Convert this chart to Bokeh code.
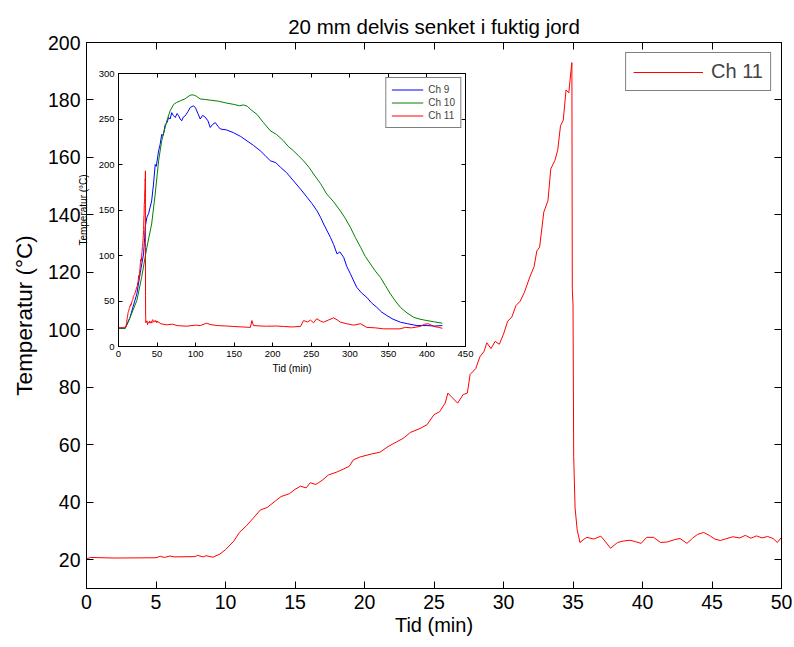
from bokeh.plotting import figure
from bokeh.models import Range1d, LinearAxis, FixedTicker, Legend, LegendItem, Column
from bokeh.embed import file_html
from bokeh.resources import INLINE

FONT = "Liberation Sans"

# ---------------- data ----------------
# Main chart: Ch 11, first 50 minutes
ch11_t = [0, 0.3, 2.0, 5.0, 5.3, 5.6, 6.0, 6.3, 7.8, 8.0, 8.4, 8.6, 9.1, 9.6, 10.0, 10.6, 11.0,
          11.5, 12.0, 12.5, 13.0, 13.6, 14.0, 14.6, 15.0, 15.4, 15.8, 16.1, 16.5, 17.0, 17.4,
          18.0, 18.5, 18.9, 19.2, 19.7, 20.5, 21.1, 21.7, 22.3, 22.8, 23.3, 24.0, 24.5, 25.0,
          25.4, 25.8, 26.0, 26.3, 26.7, 27.1, 27.4, 27.6, 28.0, 28.3, 28.6, 28.8, 29.1, 29.4,
          29.7, 30.0, 30.3, 30.6, 30.9, 31.2, 31.5, 31.9, 32.2, 32.4, 32.6, 32.9, 33.2, 33.4,
          33.7, 33.9, 34.1, 34.3, 34.5, 34.7, 34.85, 34.92, 34.95, 35.0, 35.05, 35.15, 35.3,
          35.5, 35.8, 36.0, 36.5, 37.0, 37.3, 37.7, 38.2, 38.6, 39.1, 39.5, 39.9, 40.3, 40.8,
          41.3, 41.8, 42.3, 42.7, 43.2, 43.6, 43.95, 44.4, 44.8, 45.2, 45.6, 46.0, 46.5, 47.0,
          47.4, 47.8, 48.2, 48.6, 49.0, 49.4, 49.7, 50.0]
ch11_v = [20.3, 20.8, 20.6, 20.7, 21.2, 20.8, 21.3, 21.0, 21.1, 21.5, 21.0, 21.4, 20.9, 22.0,
          23.5, 26.5, 29.5, 31.8, 34.5, 37.3, 38.2, 40.5, 42.0, 43.0, 44.5, 45.6, 45.0, 46.8,
          46.2, 47.8, 49.5, 50.5, 51.6, 52.5, 54.8, 55.8, 56.8, 57.4, 59.4, 61.0, 62.3, 64.3,
          65.7, 67.0, 70.5, 71.5, 74.5, 78.0, 76.5, 74.5, 77.5, 78.0, 84.5, 86.5, 90.6, 92.5,
          95.5, 93.5, 96.0, 95.0, 98.5, 103.0, 104.5, 108.5, 110.0, 113.0, 118.5, 122.0, 127.5,
          128.8, 141.0, 145.0, 156.0, 159.0, 162.5, 171.0, 173.0, 183.5, 182.5, 190.0, 193.0,
          114.0, 109.0, 56.0, 38.0, 30.5, 26.0, 27.2, 27.8, 27.2, 28.2, 26.5, 24.0, 26.0, 26.5,
          26.8, 26.3, 25.7, 27.8, 27.8, 26.0, 26.2, 27.0, 27.4, 25.7, 27.5, 28.8, 29.5, 28.5,
          27.2, 26.7, 27.3, 28.0, 27.6, 28.5, 27.5, 28.3, 27.6, 28.1, 27.4, 26.0, 27.8]

# Inset: Ch 11 after 50 minutes
ch11_late_t = [55, 62, 70, 76, 88, 100, 106, 114, 120, 128, 140, 149, 160, 171, 173, 175, 185,
               192, 205, 214, 225, 236, 240, 245, 249, 253, 257, 262, 266, 272, 279, 284, 288,
               296, 305, 314, 322, 333, 344, 365, 372, 380, 391, 397, 402, 409, 415, 420]
ch11_late_v = [25.0, 23.8, 24.5, 23.0, 22.3, 23.5, 23.0, 25.5, 24.0, 23.0, 22.5, 22.0, 21.5,
               21.0, 28.5, 23.0, 22.5, 22.3, 22.5, 22.0, 21.5, 22.0, 28.5, 27.0, 29.0, 26.0,
               30.5, 28.0, 26.7, 29.0, 31.5, 29.0, 26.7, 25.0, 23.5, 25.0, 21.0, 20.5, 19.4,
               19.4, 21.0, 20.5, 22.0, 24.5, 25.0, 22.0, 21.0, 20.0]

# Inset: Ch 9
ch9_t = [0, 8.7, 12, 15, 19, 23.8, 28, 32.5, 34, 34.6, 36.8, 39, 41, 43, 45.4, 47.6, 49, 52,
         54, 56, 58, 60.6, 63, 65, 67, 69, 71, 73.6, 76, 78, 80, 82, 84, 86.5, 90, 93, 97.4,
         100, 103, 106, 109, 112.5, 116, 119, 122, 125.5, 129, 132, 140, 149, 158, 166.6, 175,
         184, 190, 197, 204, 210, 218, 227, 236, 244.5, 251, 257.5, 262, 266, 270, 274.8, 279,
         283.4, 287, 292, 296, 300.7, 305, 309, 315, 322, 328, 335, 341, 348, 356, 365.6, 375,
         387, 400, 410, 420]
ch9_v = [20, 20, 26, 32, 44, 57.8, 80, 101.7, 120, 131, 142, 146, 153, 160, 178.5, 200, 198,
         215, 222, 233, 232, 244, 246, 251.7, 250, 257, 254, 251.7, 256, 253.5, 250, 248, 252,
         253.5, 258, 262.7, 264.5, 262, 256, 250, 254, 252, 248, 240.7, 244, 246, 242, 239,
         238, 235, 231, 226, 221, 215, 210, 204, 202, 197, 191, 182, 173, 164, 157, 149, 142,
         134.6, 128, 120, 112, 101.7, 104, 98, 88, 80, 72, 65, 59, 54, 48, 43, 38, 34, 30,
         26.7, 25, 23, 23, 22.5, 23]

# Inset: Ch 10
ch10_t = [0, 8.7, 15, 23.8, 30, 36.8, 43, 47.6, 52, 56, 62.7, 67, 71.4, 75, 80, 86, 93, 97,
          101, 106, 112, 119, 130, 140.6, 150, 157, 162, 167, 172, 179.6, 188, 197, 205, 214,
          220, 227, 233, 240, 247, 253, 262, 270, 279, 287.7, 294, 300.7, 307, 314, 320, 326.7,
          333, 339.7, 346, 352.6, 359, 365.6, 374, 383, 391, 400, 410, 420]
ch10_v = [20, 20, 32, 50.5, 76, 109, 134.6, 167.6, 204, 226, 248, 259, 266, 268, 270, 272,
          276.2, 276.5, 275, 272, 271.5, 270.7, 269.5, 267.4, 266, 264.5, 265.5, 264, 260, 255,
          246, 237, 233, 226, 220, 215, 210, 204, 197, 189.5, 179, 167.6, 159, 149, 141, 131,
          120, 109, 99, 90.7, 83, 76, 67, 57.8, 50, 43, 37, 32, 30, 28.5, 27, 25.6]

main_xticks = [0, 5, 10, 15, 20, 25, 30, 35, 40, 45, 50]
main_yticks = [20, 40, 60, 80, 100, 120, 140, 160, 180, 200]
inset_xticks = [0, 50, 100, 150, 200, 250, 300, 350, 400, 450]
inset_yticks = [0, 50, 100, 150, 200, 250, 300]


def style_axis(ax, fs, tick_in, ticks, labels=True):
    ax.ticker = FixedTicker(ticks=ticks)
    ax.major_tick_in = tick_in
    ax.major_tick_out = 0
    ax.minor_tick_in = 0
    ax.minor_tick_out = 0
    ax.axis_line_color = "black"
    ax.major_tick_line_color = "black"
    ax.major_label_text_font = FONT
    ax.major_label_text_color = "black"
    ax.axis_label_text_font = FONT
    ax.axis_label_text_font_style = "normal"
    ax.axis_label_text_color = "black"
    if labels:
        ax.major_label_text_font_size = fs
    else:
        ax.major_label_text_font_size = "0px"
        ax.major_label_standoff = 0


# ---------------- main figure ----------------
p = figure(width=794, height=647, x_range=Range1d(0, 50), y_range=Range1d(10, 200),
           output_backend="svg", toolbar_location=None,
           min_border_left=86, min_border_right=13, min_border_top=42, min_border_bottom=59,
           title="20 mm delvis senket i fuktig jord")
p.title.align = "center"
p.title.text_font = FONT
p.title.text_font_size = "20.5px"
p.title.text_font_style = "normal"
p.title.text_color = "black"
p.xgrid.visible = False
p.ygrid.visible = False
p.outline_line_color = "black"
p.background_fill_color = "white"

style_axis(p.xaxis[0], "19.5px", 7, main_xticks)
style_axis(p.yaxis[0], "19.5px", 7, main_yticks)
p.xaxis[0].axis_label = "Tid (min)"
p.xaxis[0].axis_label_text_font_size = "20px"
p.xaxis[0].major_label_standoff = 6
p.xaxis[0].axis_label_standoff = 2
p.yaxis[0].axis_label = "Temperatur (°C)"
p.yaxis[0].axis_label_text_font_size = "22.5px"
p.yaxis[0].major_label_standoff = 6
p.yaxis[0].axis_label_standoff = 8

top_ax = LinearAxis()
style_axis(top_ax, "0px", 7, main_xticks, labels=False)
p.add_layout(top_ax, "above")
right_ax = LinearAxis()
style_axis(right_ax, "0px", 7, main_yticks, labels=False)
p.add_layout(right_ax, "right")

r_main = p.line(ch11_t, ch11_v, line_color="red", line_width=1)
leg = Legend(items=[LegendItem(label="Ch 11", renderers=[r_main])], location="top_right")
leg.border_line_color = "black"
leg.border_line_width = 1
leg.label_text_font = FONT
leg.label_text_font_size = "20px"
leg.glyph_width = 70
leg.glyph_height = 20
leg.padding = 7
leg.margin = 10
leg.label_standoff = 8
leg.spacing = 0
p.add_layout(leg)

# ---------------- inset ----------------
# In a Column the children's side borders are aligned to the widest (86 left, 13 right),
# so the inset uses the same side borders and is shifted accordingly.
ins = figure(width=446, height=319, x_range=Range1d(0, 450), y_range=Range1d(0, 300),
             output_backend="svg", toolbar_location=None,
             min_border_left=86, min_border_right=13, min_border_top=10, min_border_bottom=36)
ins.border_fill_alpha = 0
ins.background_fill_color = "white"
ins.outline_line_color = "black"
ins.xgrid.visible = False
ins.ygrid.visible = False
style_axis(ins.xaxis[0], "9.5px", 4, inset_xticks)
style_axis(ins.yaxis[0], "9.5px", 4, inset_yticks)
ins.xaxis[0].axis_label = "Tid (min)"
ins.xaxis[0].axis_label_text_font_size = "10px"
ins.xaxis[0].major_label_standoff = 4
ins.xaxis[0].axis_label_standoff = 3
ins.yaxis[0].axis_label = "Temperatur (°C)"
ins.yaxis[0].axis_label_text_font_size = "10px"
ins.yaxis[0].major_label_standoff = 4
ins.yaxis[0].axis_label_standoff = 7
ins_top = LinearAxis()
style_axis(ins_top, "0px", 4, inset_xticks, labels=False)
ins.add_layout(ins_top, "above")
ins_right = LinearAxis()
style_axis(ins_right, "0px", 4, inset_yticks, labels=False)
ins.add_layout(ins_right, "right")

r9 = ins.line(ch9_t, ch9_v, line_color="#0000ff", line_width=1)
r10 = ins.line(ch10_t, ch10_v, line_color="#008000", line_width=1)
r11 = ins.line(ch11_t + ch11_late_t, ch11_v + ch11_late_v, line_color="#ff0000", line_width=1)
ileg = Legend(items=[LegendItem(label="Ch 9", renderers=[r9]),
                     LegendItem(label="Ch 10", renderers=[r10]),
                     LegendItem(label="Ch 11", renderers=[r11])], location="top_right")
ileg.border_line_color = "black"
ileg.label_text_font = FONT
ileg.label_text_font_size = "10px"
ileg.glyph_width = 32
ileg.glyph_height = 13
ileg.label_height = 13
ileg.padding = 5
ileg.margin = 4
ileg.label_standoff = 5
ileg.spacing = 0
ins.add_layout(ileg)

ins.styles = {"position": "absolute", "left": "32px", "top": "63px"}

layout = Column(children=[p, ins])
open("out.html", "w").write(file_html(layout, INLINE))
